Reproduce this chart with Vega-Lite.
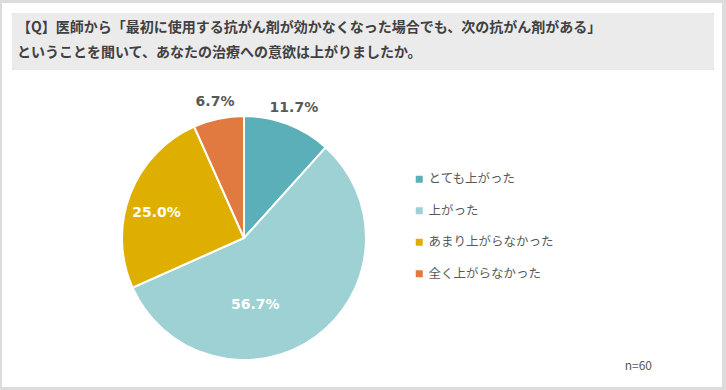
{
  "$schema": "https://vega.github.io/schema/vega-lite/v6.json",
  "background": "#dcdcdc",
  "padding": {"left": 2, "top": 3, "right": 4, "bottom": 3},
  "spacing": 0,
  "config": {
    "view": {"stroke": null, "fill": "white"},
    "font": "Noto Sans CJK JP",
    "concat": {"spacing": 0}
  },
  "datasets": {
    "answers": [
      {"category": "とても上がった", "order": 1, "share": 0.117},
      {"category": "上がった", "order": 2, "share": 0.567},
      {"category": "あまり上がらなかった", "order": 3, "share": 0.25},
      {"category": "全く上がらなかった", "order": 4, "share": 0.067}
    ],
    "question": [
      {"line": 1, "text": "【Q】医師から「最初に使用する抗がん剤が効かなくなった場合でも、次の抗がん剤がある」"},
      {"line": 2, "text": "ということを聞いて、あなたの治療への意欲は上がりましたか。"}
    ],
    "note": [{"text": "n=60"}],
    "blank": [{"text": ""}]
  },
  "vconcat": [
    {"width": 720, "height": 10, "data": {"name": "blank"}, "mark": {"type": "rect", "color": "white"}, "encoding": {}},
    {
      "spacing": 0,
      "hconcat": [
        {"width": 10, "height": 57, "data": {"name": "blank"}, "mark": {"type": "rect", "color": "white"}, "encoding": {}},
        {
          "width": 702,
          "height": 57,
          "view": {"fill": "#ebebeb", "cornerRadius": 3},
          "data": {"name": "question"},
          "mark": {"type": "text", "align": "left", "baseline": "middle", "fontSize": 14, "fontWeight": "bold", "color": "#404040", "dx": 5},
          "encoding": {
            "x": {"datum": 0, "type": "quantitative", "scale": {"domain": [0, 1]}, "axis": null},
            "y": {"field": "line", "type": "ordinal", "axis": null, "scale": {"range": [15, 40], "padding": 0}},
            "text": {"field": "text"}
          }
        },
        {"width": 8, "height": 57, "data": {"name": "blank"}, "mark": {"type": "rect", "color": "white"}, "encoding": {}}
      ]
    },
    {
      "spacing": 0,
      "hconcat": [
        {
          "spacing": 0,
          "vconcat": [
            {"width": 484, "height": 19, "data": {"name": "blank"}, "mark": {"type": "rect", "color": "white"}, "encoding": {}},
            {
              "width": 484,
              "height": 298,
              "layer": [
                {"data": {"name": "blank"}, "mark": {"type": "rect", "color": "white"}, "encoding": {}},
                {
                  "data": {"name": "answers"},
                  "encoding": {
                    "theta": {"field": "share", "type": "quantitative", "stack": true},
                    "order": {"field": "order", "type": "quantitative"}
                  },
                  "layer": [
                    {
                      "mark": {"type": "arc", "outerRadius": 122, "stroke": "white", "strokeWidth": 2},
                      "encoding": {
                        "color": {
                          "field": "category",
                          "type": "nominal",
                          "sort": null,
                          "scale": {
                            "domain": ["とても上がった", "上がった", "あまり上がらなかった", "全く上がらなかった"],
                            "range": ["#5aafb8", "#9ed1d4", "#dfaf00", "#e07a40"]
                          },
                          "legend": {
                            "title": null,
                            "orient": "none",
                            "legendX": 411,
                            "legendY": 170,
                            "symbolType": "square",
                            "symbolSize": 49,
                            "symbolStrokeWidth": 0,
                            "labelFontSize": 12.5,
                            "labelColor": "#595959",
                            "labelFont": "Noto Sans CJK JP",
                            "labelOffset": 3,
                            "rowPadding": 18.5
                          }
                        }
                      }
                    },
                    {
                      "mark": {"type": "text", "radius": 139, "fontSize": 14, "fontWeight": "bold", "font": "DejaVu Sans", "color": "#595959"},
                      "encoding": {
                        "text": {"condition": {"test": "datum.share < 0.2", "field": "share", "type": "quantitative", "format": ".1%"}, "value": ""}
                      }
                    },
                    {
                      "mark": {"type": "text", "radius": 91, "thetaOffset": -0.09, "fontSize": 14, "fontWeight": "bold", "font": "DejaVu Sans", "color": "white"},
                      "encoding": {
                        "text": {"condition": {"test": "datum.share >= 0.2 && datum.share < 0.5", "field": "share", "type": "quantitative", "format": ".1%"}, "value": ""}
                      }
                    },
                    {
                      "mark": {"type": "text", "radius": 68, "thetaOffset": 0.46, "fontSize": 14, "fontWeight": "bold", "font": "DejaVu Sans", "color": "white"},
                      "encoding": {
                        "text": {"condition": {"test": "datum.share >= 0.5", "field": "share", "type": "quantitative", "format": ".1%"}, "value": ""}
                      }
                    }
                  ]
                }
              ]
            }
          ]
        },
        {
          "width": 236,
          "height": 317,
          "data": {"name": "note"},
          "mark": {"type": "text", "align": "right", "baseline": "middle", "fontSize": 12, "color": "#595959", "dx": -70, "dy": -21},
          "encoding": {
            "x": {"datum": 1, "type": "quantitative", "scale": {"domain": [0, 1]}, "axis": null},
            "y": {"datum": 0, "type": "quantitative", "scale": {"domain": [0, 1]}, "axis": null},
            "text": {"field": "text"}
          }
        }
      ]
    }
  ]
}
